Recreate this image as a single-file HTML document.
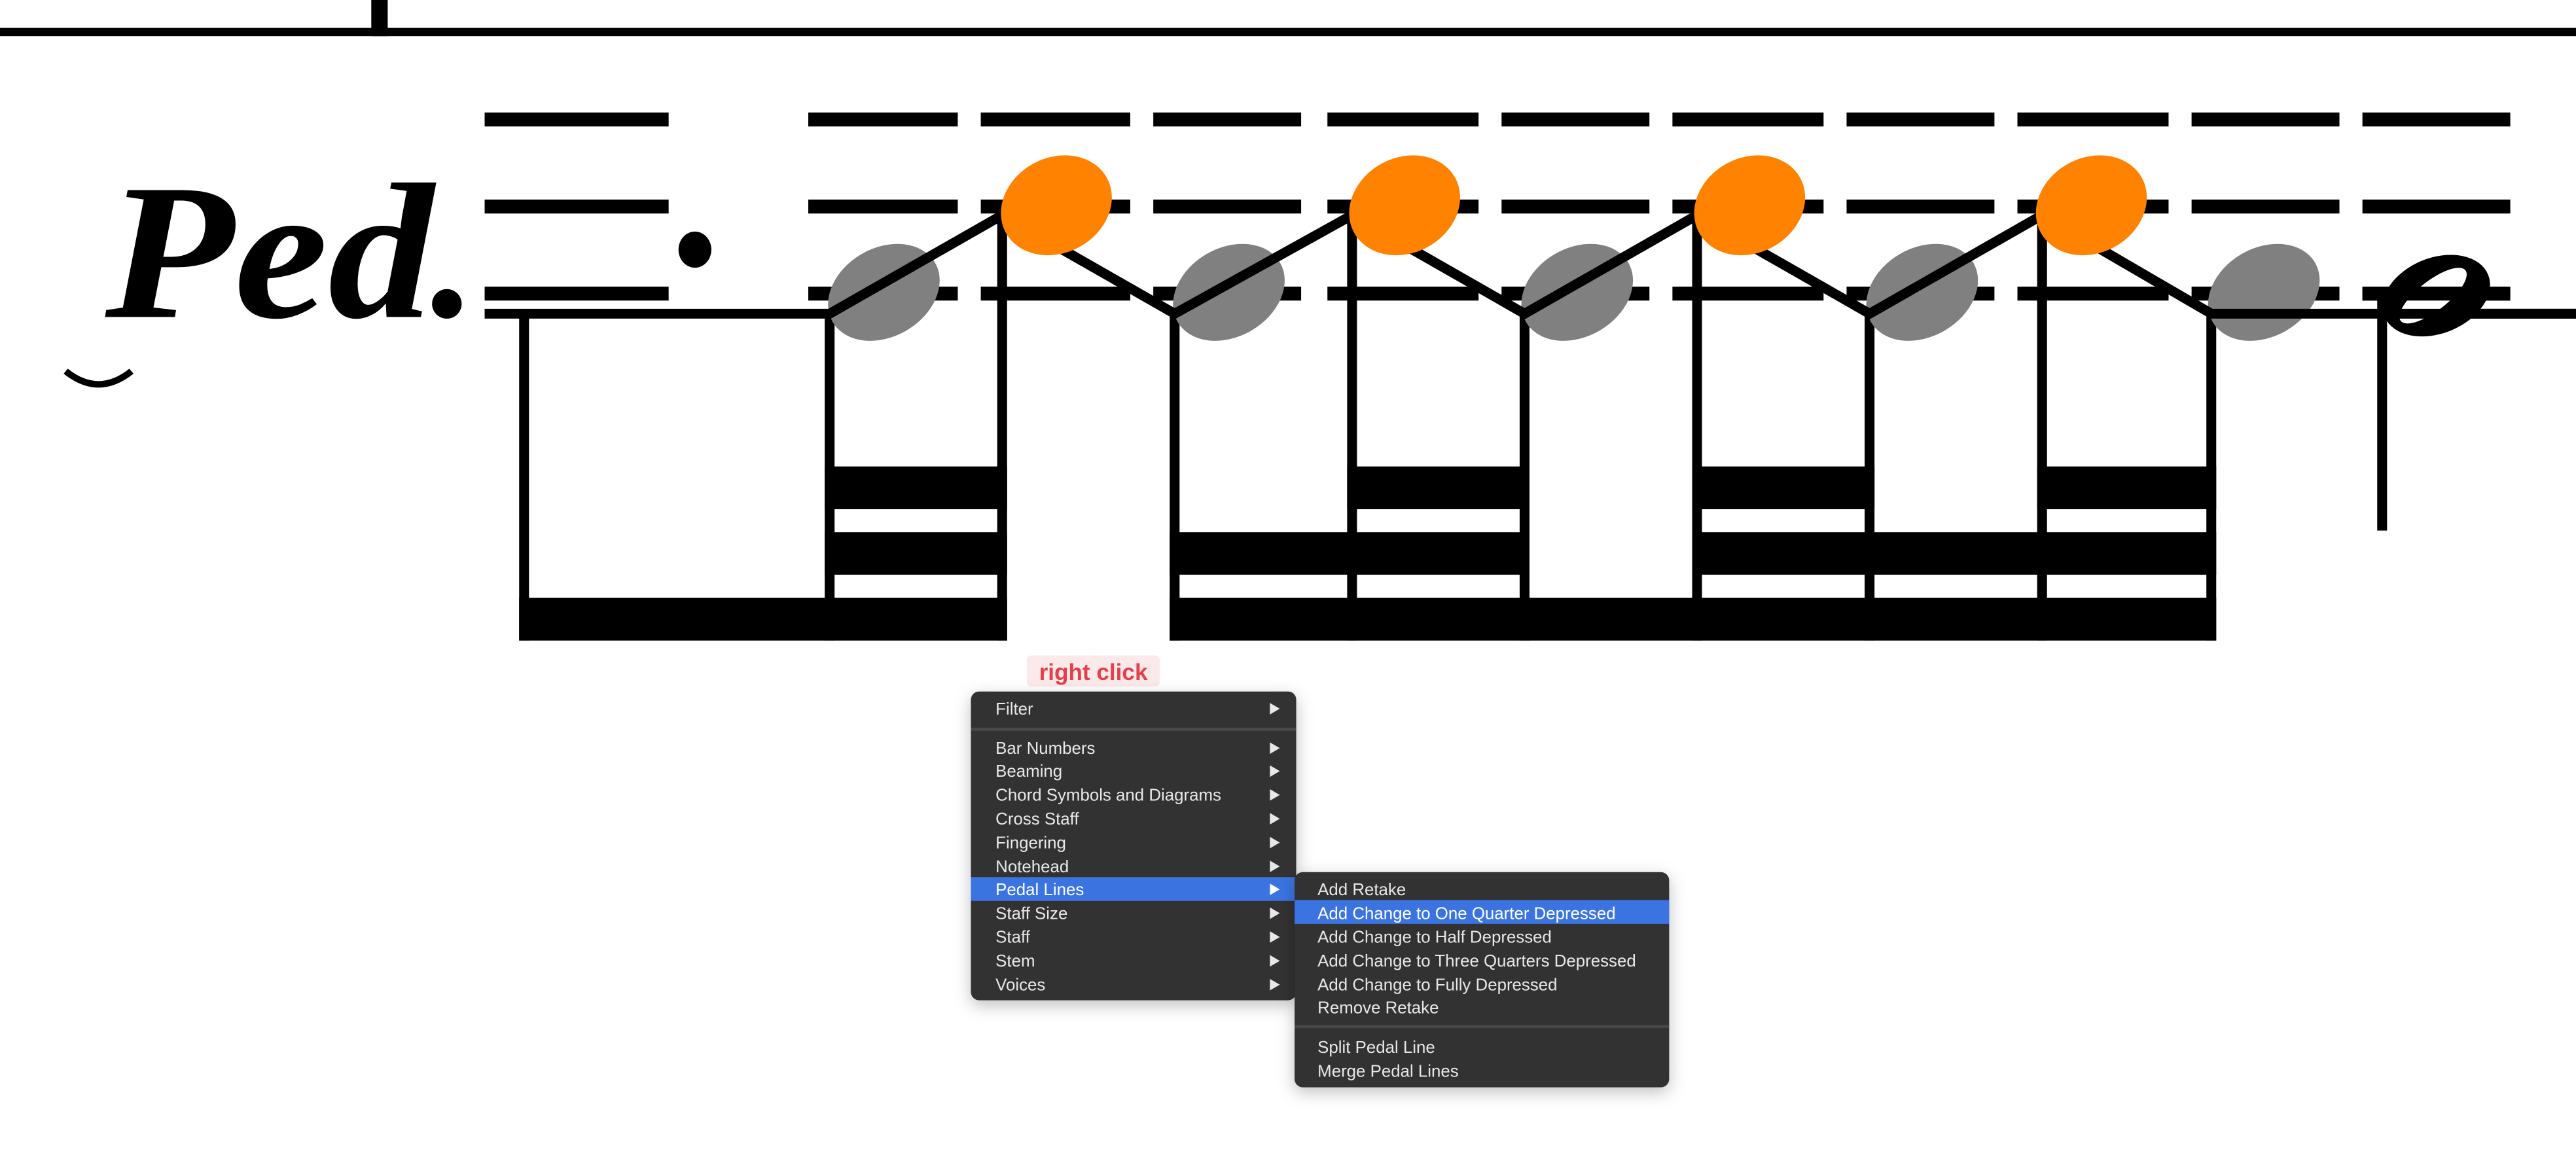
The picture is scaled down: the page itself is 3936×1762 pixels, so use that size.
<!DOCTYPE html>
<html><head><meta charset="utf-8"><style>
html,body{margin:0;padding:0;background:#fff;}
svg{display:block;}
</style></head><body>
<svg width="3936" height="1762" viewBox="0 0 1568 702" preserveAspectRatio="none" xmlns="http://www.w3.org/2000/svg">
<rect width="1568" height="702" fill="#fff"/>
<!-- top line -->
<rect x="0" y="17" width="1568" height="5" fill="#000"/>
<rect x="226" y="0" width="10" height="22" fill="#000"/>
<!-- Ped. -->
<text x="64" y="193" font-family="Liberation Serif, serif" font-style="italic" font-weight="bold" font-size="118" textLength="200" lengthAdjust="spacingAndGlyphs" fill="#000">Ped</text>
<circle cx="272" cy="185" r="9" fill="#000"/>
<path d="M40 226 Q60 242 80 226" stroke="#000" stroke-width="4" fill="none"/>
<!-- staff dashes -->
<g fill="#000">
<rect x="295" y="68.5" width="112" height="8.5"/><rect x="295" y="121.5" width="112" height="8.5"/><rect x="295" y="174.5" width="112" height="8.5"/>
<rect x="492" y="68.5" width="91" height="8.5"/><rect x="492" y="121.5" width="91" height="8.5"/><rect x="492" y="174.5" width="91" height="8.5"/>
<rect x="597" y="68.5" width="91" height="8.5"/><rect x="597" y="121.5" width="91" height="8.5"/><rect x="597" y="174.5" width="91" height="8.5"/>
<rect x="702" y="68.5" width="90" height="8.5"/><rect x="702" y="121.5" width="90" height="8.5"/><rect x="702" y="174.5" width="90" height="8.5"/>
<rect x="808" y="68.5" width="92" height="8.5"/><rect x="808" y="121.5" width="92" height="8.5"/><rect x="808" y="174.5" width="92" height="8.5"/>
<rect x="914" y="68.5" width="90" height="8.5"/><rect x="914" y="121.5" width="90" height="8.5"/><rect x="914" y="174.5" width="90" height="8.5"/>
<rect x="1018" y="68.5" width="92" height="8.5"/><rect x="1018" y="121.5" width="92" height="8.5"/><rect x="1018" y="174.5" width="92" height="8.5"/>
<rect x="1124" y="68.5" width="90" height="8.5"/><rect x="1124" y="121.5" width="90" height="8.5"/><rect x="1124" y="174.5" width="90" height="8.5"/>
<rect x="1228" y="68.5" width="92" height="8.5"/><rect x="1228" y="121.5" width="92" height="8.5"/><rect x="1228" y="174.5" width="92" height="8.5"/>
<rect x="1334" y="68.5" width="90" height="8.5"/><rect x="1334" y="121.5" width="90" height="8.5"/><rect x="1334" y="174.5" width="90" height="8.5"/>
<rect x="1438" y="68.5" width="90" height="8.5"/><rect x="1438" y="121.5" width="90" height="8.5"/><rect x="1438" y="174.5" width="90" height="8.5"/>
</g>
<ellipse cx="423" cy="152" rx="10" ry="11" fill="#000"/>
<!-- stems -->
<g fill="#000">
<rect x="316" y="190" width="6" height="200"/>
<rect x="502" y="190" width="6" height="200"/>
<rect x="607" y="125" width="6" height="265"/>
<rect x="712" y="190" width="6" height="200"/>
<rect x="820" y="125" width="6" height="265"/>
<rect x="925" y="190" width="6" height="200"/>
<rect x="1030" y="125" width="6" height="265"/>
<rect x="1135" y="190" width="6" height="200"/>
<rect x="1240" y="125" width="6" height="265"/>
<rect x="1343" y="190" width="6" height="200"/>
<rect x="1447" y="180" width="6" height="143"/>
<!-- beams -->
<rect x="316" y="364" width="297" height="26"/>
<rect x="502" y="284" width="111" height="26"/>
<rect x="502" y="324" width="111" height="26"/>
<rect x="712" y="364" width="637" height="26"/>
<rect x="712" y="324" width="219" height="26"/>
<rect x="1030" y="324" width="319" height="26"/>
<rect x="820" y="284" width="111" height="26"/>
<rect x="1030" y="284" width="111" height="26"/>
<rect x="1240" y="284" width="109" height="26"/>
</g>
<!-- gray noteheads -->
<g fill="#808080">
<ellipse cx="538" cy="178" rx="36" ry="27" transform="rotate(-30 538 178)"/>
<ellipse cx="748" cy="178" rx="36" ry="27" transform="rotate(-30 748 178)"/>
<ellipse cx="960" cy="178" rx="36" ry="27" transform="rotate(-30 960 178)"/>
<ellipse cx="1170" cy="178" rx="36" ry="27" transform="rotate(-30 1170 178)"/>
<ellipse cx="1378" cy="178" rx="36" ry="27" transform="rotate(-30 1378 178)"/>
</g>
<!-- pedal line -->
<polyline points="295,191 505,191 610,131 715,191 823,131 928,191 1033,131 1138,191 1243,131 1346,191 1568,191" fill="none" stroke="#000" stroke-width="6" stroke-linejoin="miter"/>
<!-- orange noteheads -->
<g fill="#ff8200">
<ellipse cx="643" cy="125" rx="35" ry="29" transform="rotate(-28 643 125)"/>
<ellipse cx="855" cy="125" rx="35" ry="29" transform="rotate(-28 855 125)"/>
<ellipse cx="1065" cy="125" rx="35" ry="29" transform="rotate(-28 1065 125)"/>
<ellipse cx="1273" cy="125" rx="35" ry="29" transform="rotate(-28 1273 125)"/>
</g>
<!-- half note -->
<ellipse cx="1483" cy="180" rx="34" ry="23" transform="rotate(-22 1483 180)" fill="#000"/>
<ellipse cx="1481" cy="180" rx="25" ry="9" transform="rotate(-38 1481 180)" fill="#fff"/>
<rect x="1438" y="174.5" width="90" height="8.5" fill="#000"/>
<rect x="1450" y="188" width="118" height="6" fill="#000"/>
<!-- right click label -->
<rect x="625" y="399" width="81" height="19" rx="3" fill="#fce9ea"/>
<text x="665.5" y="414" text-anchor="middle" font-family="Liberation Sans, sans-serif" font-weight="bold" font-size="14" fill="#e2404b">right click</text>
<!-- menus -->
<defs><filter id="sh" x="-20%" y="-20%" width="140%" height="140%"><feDropShadow dx="0" dy="3" stdDeviation="5" flood-opacity="0.25"/></filter></defs>
<rect x="591" y="421" width="198" height="188" rx="5" fill="#323232" filter="url(#sh)"/>
<rect x="591" y="443" width="198" height="2" fill="#474747"/>
<rect x="591" y="534" width="198" height="14.5" fill="#3b74e0"/>
<rect x="788" y="531" width="228" height="131" rx="5" fill="#323232" filter="url(#sh)"/>
<rect x="788" y="548" width="228" height="14.5" fill="#3b74e0"/>
<rect x="788" y="624" width="228" height="2" fill="#474747"/>
<g font-family="Liberation Sans, sans-serif" font-size="10.3" fill="#e8e8e8">
<text x="606" y="435">Filter</text>
<text x="606" y="459">Bar Numbers</text>
<text x="606" y="473">Beaming</text>
<text x="606" y="487.5">Chord Symbols and Diagrams</text>
<text x="606" y="502">Cross Staff</text>
<text x="606" y="516.5">Fingering</text>
<text x="606" y="531">Notehead</text>
<text x="606" y="545" fill="#fff">Pedal Lines</text>
<text x="606" y="559.5">Staff Size</text>
<text x="606" y="574">Staff</text>
<text x="606" y="588.5">Stem</text>
<text x="606" y="603">Voices</text>
<text x="802" y="545">Add Retake</text>
<text x="802" y="559.5" fill="#fff">Add Change to One Quarter Depressed</text>
<text x="802" y="574">Add Change to Half Depressed</text>
<text x="802" y="588.5">Add Change to Three Quarters Depressed</text>
<text x="802" y="603">Add Change to Fully Depressed</text>
<text x="802" y="617">Remove Retake</text>
<text x="802" y="641">Split Pedal Line</text>
<text x="802" y="655.5">Merge Pedal Lines</text>
</g>
<g fill="#e8e8e8">
<path d="M773 428 l6 3.5 l-6 3.5z"/>
<path d="M773 452 l6 3.5 l-6 3.5z"/>
<path d="M773 466 l6 3.5 l-6 3.5z"/>
<path d="M773 480.5 l6 3.5 l-6 3.5z"/>
<path d="M773 495 l6 3.5 l-6 3.5z"/>
<path d="M773 509.5 l6 3.5 l-6 3.5z"/>
<path d="M773 524 l6 3.5 l-6 3.5z"/>
<path d="M773 538 l6 3.5 l-6 3.5z" fill="#fff"/>
<path d="M773 552.5 l6 3.5 l-6 3.5z"/>
<path d="M773 567 l6 3.5 l-6 3.5z"/>
<path d="M773 581.5 l6 3.5 l-6 3.5z"/>
<path d="M773 596 l6 3.5 l-6 3.5z"/>
</g>
</svg>
</body></html>
